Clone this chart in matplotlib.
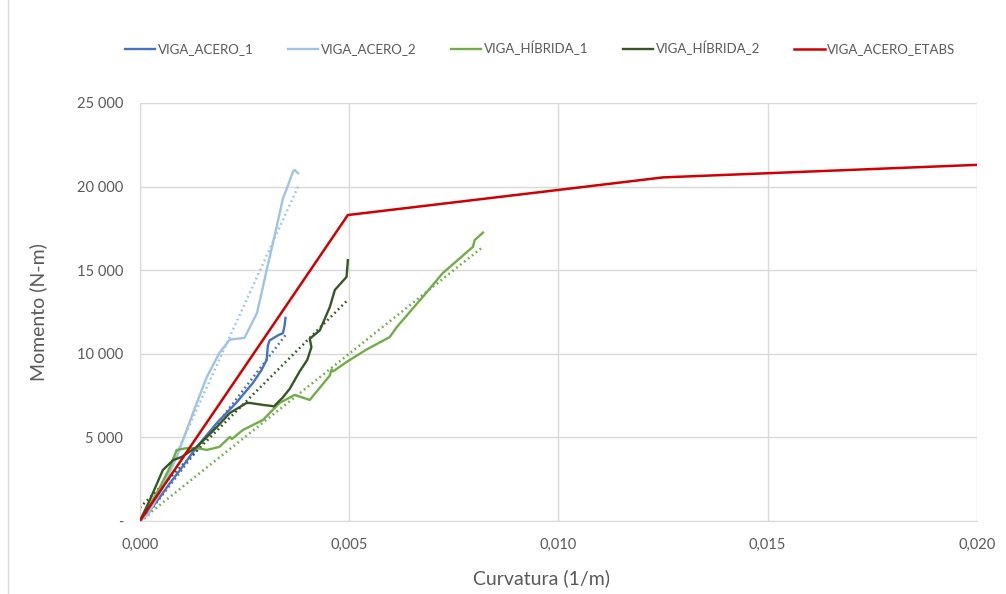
import numpy as np
import matplotlib
matplotlib.use("Agg")
import matplotlib.pyplot as plt
from matplotlib.ticker import FuncFormatter, MultipleLocator
from matplotlib.lines import Line2D

plt.rcParams['font.family'] = ['Lato', 'DejaVu Sans']

# curvature (1/m) vs moment (N-m) for each beam test
acero_1_x = [0, 0.0002, 0.00048, 0.0007, 0.00096, 0.00136, 0.00184, 0.0023, 0.0027, 0.0029,
             0.00303, 0.00306, 0.0031, 0.0033, 0.00342, 0.00346, 0.00348]
acero_1_y = [0, 500, 1430, 2200, 3050, 4430, 5860, 7060, 8250, 9000,
             9630, 10500, 10800, 11100, 11240, 11700, 12150]

acero_2_x = [0, 0.0002, 0.00055, 0.00088, 0.00103, 0.00136, 0.0016, 0.0019, 0.00215, 0.0025,
             0.0028, 0.00303, 0.00327, 0.00342, 0.0035, 0.00366, 0.0037, 0.00378]
acero_2_y = [0, 400, 2030, 3830, 4840, 7060, 8610, 10050, 10850, 10950,
             12440, 15000, 17600, 19300, 19800, 20900, 21000, 20800]

hibrida_1_x = [0, 0.00025, 0.00048, 0.00072, 0.00088, 0.0011, 0.00136, 0.0016, 0.0019, 0.00215,
               0.0022, 0.00246, 0.00294, 0.00334, 0.0037, 0.00406, 0.00454, 0.00458, 0.00462,
               0.00494, 0.0054, 0.00597, 0.00614, 0.00676, 0.00724, 0.00796, 0.0080, 0.0082]
hibrida_1_y = [0, 1000, 2030, 3230, 4250, 4350, 4360, 4250, 4430, 5030,
               4900, 5440, 6040, 7060, 7540, 7240, 8700, 9050, 8950,
               9510, 10230, 11000, 11600, 13400, 14830, 16400, 16800, 17250]

hibrida_2_x = [0, 0.00024, 0.00055, 0.0008, 0.001, 0.00136, 0.00184, 0.00215, 0.00255, 0.00263,
               0.00295, 0.00315, 0.0032, 0.00342, 0.00358, 0.00382, 0.004, 0.0041, 0.00406,
               0.0043, 0.00454, 0.00466, 0.00494, 0.00497]
hibrida_2_y = [0, 1260, 3050, 3650, 3830, 4430, 5620, 6460, 7060, 7060,
               6940, 6880, 6850, 7400, 7900, 8950, 9630, 10400, 10900,
               11400, 12800, 13820, 14600, 15600]

etabs_x = [0, 0.00497, 0.010, 0.0125, 0.015, 0.020]
etabs_y = [0, 18300, 19800, 20550, 20800, 21300]

# linear trendlines: slope, intercept, x start, x end
trend_acero_1 = (3.25e6, -200, 0.0001, 0.00348)
trend_acero_2 = (5.5e6, -800, 0.0002, 0.0038)
trend_hibrida_1 = (2.0e6, 0, 0.0, 0.0082)
trend_hibrida_2 = (2.5e6, 800, 0.0, 0.00497)

c_acero_1 = '#4472C4'
c_acero_2 = '#9DC3E6'
c_hibrida_1 = '#70AD47'
c_hibrida_2 = '#375623'
c_etabs = '#D00000'
c_text = '#595959'

fig = plt.figure(figsize=(10.06, 5.94), dpi=100)
ax = fig.add_axes([0.139, 0.1229, 0.832, 0.7037])

series = [
    ('VIGA_ACERO_1', acero_1_x, acero_1_y, c_acero_1, trend_acero_1),
    ('VIGA_ACERO_2', acero_2_x, acero_2_y, c_acero_2, trend_acero_2),
    ('VIGA_HÍBRIDA_1', hibrida_1_x, hibrida_1_y, c_hibrida_1, trend_hibrida_1),
    ('VIGA_HÍBRIDA_2', hibrida_2_x, hibrida_2_y, c_hibrida_2, trend_hibrida_2),
]

for name, xs, ys, col, tr in series:
    ax.plot(xs, ys, color=col, lw=1.7, label=name, zorder=3)
    m, b, x0, x1 = tr
    tx = np.array([x0, x1])
    ax.plot(tx, m * tx + b, color=col, lw=1.8, ls=(0, (0.7, 1.3)), zorder=2)

ax.plot(etabs_x, etabs_y, color=c_etabs, lw=1.8, label='VIGA_ACERO_ETABS', zorder=4)

ax.set_xlim(0, 0.020)
ax.set_ylim(0, 25000)
ax.xaxis.set_major_locator(MultipleLocator(0.005))
ax.yaxis.set_major_locator(MultipleLocator(5000))


def fmt_y(v, pos):
    if v == 0:
        return '-'
    return '{:,.0f}'.format(v).replace(',', ' ')


def fmt_x(v, pos):
    return '{:.3f}'.format(v).replace('.', ',')


ax.yaxis.set_major_formatter(FuncFormatter(fmt_y))
ax.xaxis.set_major_formatter(FuncFormatter(fmt_x))

ax.grid(True, color='#d9d9d9', lw=1)
ax.set_axisbelow(True)
for s in ['top', 'right']:
    ax.spines[s].set_visible(False)
for s in ['left', 'bottom']:
    ax.spines[s].set_color('#d9d9d9')
ax.tick_params(length=0, colors=c_text, labelsize=10.5)
ax.tick_params(axis='x', pad=12)
ax.tick_params(axis='y', pad=12)

ax.set_xlabel('Curvatura (1/m)', fontsize=14, color=c_text, va='center')
ax.set_ylabel('Momento (N-m)', fontsize=14, color=c_text, va='center')
ax.xaxis.set_label_coords(0.48, -0.136)
ax.yaxis.set_label_coords(-0.122, 0.5)

leg = fig.legend(loc='center', bbox_to_anchor=(0.537, 0.919), ncol=5, frameon=False,
                 fontsize=9.5, handlelength=2.3, handletextpad=0.2, columnspacing=2.6)
for t in leg.get_texts():
    t.set_color(c_text)

# chart area border on the left
fig.add_artist(Line2D([0.008, 0.008], [0, 1], transform=fig.transFigure, color='#d9d9d9', lw=1))

fig.savefig('out.png', dpi=100)
